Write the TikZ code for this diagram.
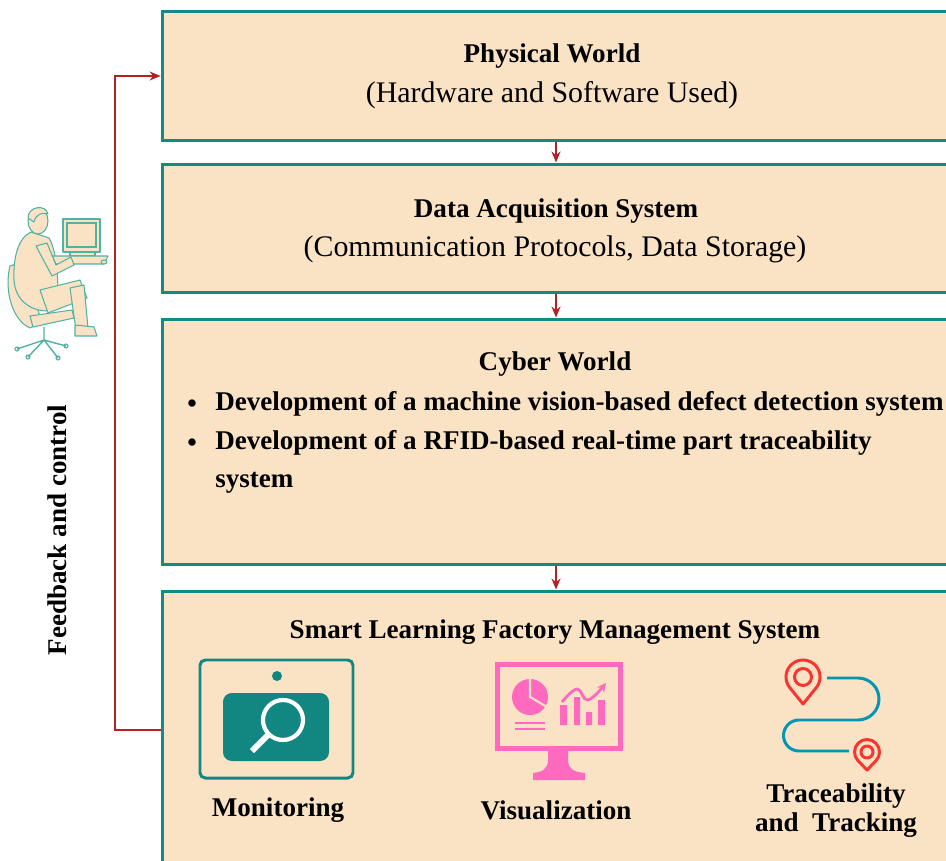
\documentclass[tikz,border=0pt]{standalone}
\usepackage{fontspec}
\setmainfont{Liberation Serif}
\usepackage{tikz}
\usetikzlibrary{arrows.meta}
\definecolor{panelFill}{RGB}{250,227,197}
\definecolor{panelTeal}{RGB}{20,138,136}
\definecolor{linkRed}{RGB}{178,34,34}
\definecolor{monTeal}{RGB}{18,135,130}
\definecolor{personTeal}{RGB}{80,178,165}
\definecolor{personFill}{RGB}{250,226,196}
\definecolor{vizPink}{RGB}{255,105,190}
\definecolor{pinRed}{RGB}{250,52,48}
\definecolor{routeBlue}{RGB}{0,150,180}

\begin{document}
\begin{tikzpicture}[
  x=0.02cm, y=-0.02cm,
  panel/.style={draw=panelTeal, line width=1.7pt, fill=panelFill,
              minimum width=15.76cm, inner sep=0pt},
  ttl/.style={font=\fontsize{15.4}{22}\selectfont\bfseries, inner sep=0pt},
  sub/.style={font=\fontsize{17}{22}\selectfont, inner sep=0pt},
  item/.style={ttl, anchor=west, align=left},
  arr/.style={-{Stealth[length=2.2mm,width=1.8mm]}, line width=1pt, linkRed},
  person/.style={draw=personTeal, fill=personFill, line width=0.6pt, line join=round},
  pin/.style={draw=pinRed, line width=1.7pt, line join=round}
]
\clip (0,0) rectangle (946,861);

\node[panel, minimum height=2.6cm] (phys) at (556,76) {};
\node[panel, minimum height=2.58cm] (daq) at (556,228.5) {};
\node[panel, minimum height=4.92cm] (cyber) at (556,442) {};
\node[panel, minimum height=5.56cm] (slf) at (556,730) {};

\node[ttl] (physT) at (552,56) {Physical World};
\node[sub] (physS) at (552,95) {(Hardware and Software Used)};
\node[ttl] (daqT) at (556,211) {Data Acquisition System};
\node[sub] (daqS) at (555,249) {(Communication Protocols, Data Storage)};
\node[ttl] (cyberT) at (555,364) {Cyber World};
\node[ttl] (dot1) at (192,406) {\textbullet};
\node[item] (it1) at (215,404) {Development of a machine vision-based defect detection system};
\node[ttl] (dot2) at (192,445) {\textbullet};
\node[item] (it2) at (215,462) {Development of a RFID-based real-time part traceability\\system};
\node[ttl] (slfT) at (555,632) {Smart Learning Factory Management System};
\node[ttl] (monL) at (278,810) {Monitoring};
\node[ttl] (vizL) at (556,810) {Visualization};
\node[ttl, align=center, font=\fontsize{15.4}{16.5}\selectfont\bfseries] (trkL) at (836,811)
  {Traceability\\and\ \ Tracking};
\node[ttl, rotate=90] (fbT) at (57,530) {Feedback and control};

\draw[arr] (phys.south) -- (daq.north);
\draw[arr] (daq.south) -- (cyber.north);
\draw[arr] (cyber.south) -- (slf.north);
\coordinate (fbx) at (115,0);
\draw[arr] (slf.west) -- (slf.west -| fbx) |- (phys.west);

% operator at the workstation
\draw[person] (10,266) .. controls (4,290) and (12,320) .. (30,328) -- (42,322)
  .. controls (34,300) and (30,280) .. (22,262) -- cycle;
\draw[person] (30,316) -- (72,310) -- (74,318) -- (33,327) -- cycle;
\draw[personTeal, line width=0.8pt] (44,327) -- (44,340)
  (44,340) -- (17,349) (44,340) -- (28,357) (44,340) -- (58,358) (44,340) -- (66,346);
\foreach \cx/\cy in {17/349, 28/357, 58/358, 66/346}
  \draw[personTeal, line width=0.6pt] (\cx,\cy) circle (2);
\draw[person] (31,232) .. controls (18,238) and (13,258) .. (14,280)
  .. controls (15,298) and (28,311) .. (48,311) -- (58,296)
  .. controls (58,272) and (56,250) .. (49,238) -- cycle;
\draw[person] (40,290) -- (80,280) -- (87,298) -- (48,313) -- cycle;
\draw[person] (70,288) -- (84,285) -- (88,328) -- (76,330) -- cycle;
\draw[person] (75,325) -- (94,327) -- (97,336) -- (75,336) -- cycle;
\draw[person] (63,219) rectangle (100,252);
\draw[personTeal, fill=panelFill, line width=0.6pt] (67,223) rectangle (96,247);
\draw[person] (70,252) rectangle (95,256);
\draw[person] (52,256) -- (108,256) -- (104,264) -- (56,264) -- cycle;
\draw[person] (104,262) ellipse (3 and 2);
\draw[person] (36,246) -- (52,276) -- (74,265) -- (71,257) -- (56,265) -- (47,243) -- cycle;
\draw[person] (38,221) ellipse (10 and 13);
\draw[person] (28,218) .. controls (28,206) and (46,204) .. (48,214)
  .. controls (42,212) and (36,214) .. (34,222) -- cycle;

% monitoring icon
\draw[monTeal, line width=1.7pt, fill=panelFill, rounded corners=3pt]
  (200,660) rectangle (353,778);
\fill[monTeal] (277,676) circle (5);
\fill[monTeal, rounded corners=5pt] (223,693) rectangle (329,761);
\draw[white, line width=2.4pt] (283,720) circle (20);
\draw[white, line width=3.4pt] (268,735) -- (252,751);

% visualization icon
\draw[vizPink, line width=2.9pt] (497.5,664.5) rectangle (620.5,748.5);
\fill[vizPink] (548,749) -- (568,749) -- (568,760) .. controls (568,770) and (575,772) .. (585,773)
  -- (585,780) -- (533,780) -- (533,773) .. controls (541,772) and (548,770) .. (548,760) -- cycle;
\fill[vizPink] (530,697) circle (18);
\draw[panelFill, line width=1.2pt] (530,678) -- (530,697) -- (547,707);
\draw[vizPink, line width=1.2pt] (515,723) -- (545,723) (515,729) -- (545,729);
\fill[vizPink] (560,705) rectangle (567,725) (574,697) rectangle (580,725)
  (586,712) rectangle (592,725) (598,700) rectangle (605,725);
\draw[vizPink, line width=1.6pt, -{Stealth[length=1.8mm,width=1.8mm]}]
  plot[smooth, tension=0.7] coordinates {(562,702) (577,689) (588,700) (606,683)};

% traceability icon
\draw[routeBlue, line width=1.7pt] (827,678) -- (858,678) arc(-90:90:21)
  -- (799,720) arc(270:90:15.5) -- (849,751);
\draw[pin] (803,704) -- (789.8,687.7) arc(141:399:17) -- cycle;
\draw[pin] (803,677) circle (8.5);
\draw[pin] (867,770) -- (858,760.7) arc(136:404:12.5) -- cycle;
\draw[pin] (867,752) circle (6);
\end{tikzpicture}
\end{document}
